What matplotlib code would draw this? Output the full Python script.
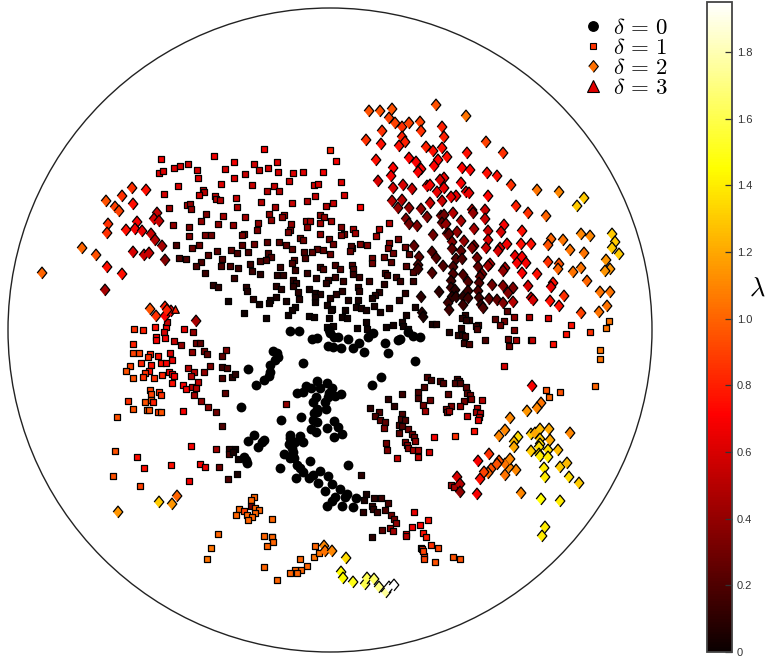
import matplotlib
matplotlib.use("Agg")
import matplotlib.pyplot as plt
from matplotlib.cm import ScalarMappable
from matplotlib.colors import Normalize
from matplotlib.lines import Line2D
from matplotlib.patches import Circle

# All positions (x, y) with a lambda value from colour
circles = [(290,331),(299,331),(312,339),(317,338),(329,330),(330,333),(334,337),(338,337),(348,339),(328,346),(333,347),(341,348),(353,348),(359,343),(364,352),(368,337),(373,333),(385,343),(388,353),(398,340),(400,339),(408,332),(413,336),(420,337),(415,361),(381,377),(372,385),(303,363),(248,369),(273,351),(277,353),(278,357),(270,365),(270,372),(269,376),(264,380),(256,385),(275,360),(241,407),(281,420),(301,417),
(317,381),(327,383),(306,386),(311,388),(320,388),(332,388),(297,393),(303,392),(341,394),(335,396),(329,393),(316,397),(313,402),(325,402),(328,397),(326,409),(317,409),(314,413),(317,422),(313,420),(334,421),(338,427),(327,428),(342,434),(334,437),(311,429),(316,432),(317,412),
(254,435),(264,440),(248,441),(262,442),(258,447),(244,457),(246,460),(247,463),(290,435),(300,436),(290,438),(303,442),(289,444),(295,442),(292,448),(284,454),(293,452),(290,458),(294,458),(297,465),(310,461),(300,468),(303,472),(280,468),(296,478),(320,471),(313,475),(309,478),(328,476),(348,465),(318,483),(332,484),(340,489),(325,491),(347,494),(345,497),(335,497),(332,501),(327,506),(356,498),(342,506),(353,507)]

squares_top_left = [(161,159,.68),(214,156,.68),(234,162,.68),(159,173,.62),(163,171,.62),(174,168,.62),(180,166,.6),(188,164,.58),(197,170,.6),(225,169,.6),(198,178,.62),(234,178,.62),(178,186,.62),(221,184,.62),(164,194,.6),(203,190,.6),(204,192,.5),(199,195,.6),(215,196,.55),(216,199,.5),(220,200,.5),(236,198,.55),(169,208,.45),(187,205,.5),(190,204,.4),(191,209,.4),(237,207,.5),(206,214,.35),(223,216,.45),(173,225,.4),(189,227,.35),(201,221,.4),(218,224,.4),(233,225,.4),(189,236,.35),(205,235,.35),(211,235,.3),(176,245,.2),(192,248,.3),(199,245,.3),(217,251,.25),(231,250,.25),(237,253,.2),(208,255,.25),(179,258,.2),(186,259,.2),(201,262,.2),(196,266,.2),(222,259,.2),(221,266,.2),(230,266,.2),(238,268,.15),(205,273,.15),(234,278,.15),(213,285,.1),(218,287,.1),(228,301,.02)]

squares_top_mid = [(264,149,.68),(330,150,.8),(336,161,.7),(254,164,.58),(259,170,.55),(277,162,.62),(268,168,.6),(278,172,.6),(293,173,.62),(303,172,.62),(323,172,.68),(245,174,.55),(289,181,.58),(252,185,.55),(314,185,.6),(318,184,.6),(341,182,.62),(274,186,.55),(267,191,.5),(279,191,.5),(344,195,.6),(315,196,.55),(307,201,.5),(261,202,.5),(292,203,.55),(333,203,.55),(326,206,.5),(360,207,.72),(275,207,.45),(269,214,.4),(245,217,.45),(284,215,.45),(282,217,.4),(320,215,.4),(324,217,.4),(271,220,.4),(306,221,.45),(310,221,.45),(331,221,.45),(320,223,.45),(258,223,.4),(291,224,.4),(307,227,.4),(341,227,.35),(353,229,.45),(389,223,.5),(379,229,.5),(257,230,.35),(290,230,.35),(288,232,.35),(355,233,.45),(376,236,.45),(344,234,.3),(341,235,.35),(320,234,.4),(244,234,.3),(242,235,.35),(300,238,.3),(303,240,.3),(329,239,.3),(267,242,.25),(279,242,.25),(398,239,.35),(333,244,.3),(389,243,.35),(286,245,.25),(254,244,.3),(242,245,.25),(360,244,.35),(367,245,.35),(405,247,.3),(388,248,.35),(292,249,.25),(317,249,.25),(323,250,.25),(352,248,.35),(351,246,.2),(350,251,.3),(248,252,.2),(312,252,.25),(304,252,.2),(268,253,.2),(330,254,.3),(393,253,.3),(409,254,.25),(271,257,.2),(305,258,.2),(372,258,.3),(384,257,.3),(266,260,.2),(260,261,.2),(294,260,.2),(292,263,.2),(372,263,.3),(391,262,.25)]

squares_center = [(250,264,.15),(335,265,.2),(352,265,.2),(280,267,.15),(320,267,.15),(406,266,.25),(323,269,.2),(340,269,.2),(353,269,.2),(295,270,.15),(252,271,.15),(413,272,.2),(385,273,.2),(307,273,.15),(260,274,.1),(277,275,.1),(283,275,.1),(353,274,.15),(387,275,.15),(396,277,.15),(359,277,.15),(335,277,.15),(316,278,.1),(293,280,.1),(296,283,.1),(328,280,.15),(326,283,.1),(343,281,.15),(369,281,.15),(400,281,.15),(413,281,.15),(293,286,.1),(276,286,.1),(246,287,.1),(384,284,.1),(358,287,.1),(309,289,.05),(281,289,.08),(247,291,.08),(342,291,.1),(298,292,.1),(359,291,.1),(315,293,.05),(320,294,.08),(336,294,.1),(379,292,.1),(405,293,.1),(375,295,.1),(276,297,.05),(372,298,.05),(299,299,.08),(253,299,.08),(330,298,.08),(315,297,.05),(315,302,.03),(270,300,.05),(348,300,.08),(358,300,.05),(399,300,.1),(269,303,.03),(259,304,.03),(286,301,.05),(327,305,.05),(332,309,.02),(415,307,.05),(356,307,.05),(361,308,.05),(366,310,.05),(374,306,.05),(389,308,.08),(380,312,.05),(295,307,.03),(292,310,.03),(345,310,.03),(331,310,.03),(244,313,.02),(288,315,.02),(309,316,.02),(314,317,.02),(329,318,.02),(266,318,.02),(342,317,.02),(347,318,.02),(366,322,.03),(406,315,.05),(402,322,.05),(403,326,.03),(393,325,.03),(386,327,.03),(333,326,.02),(327,327,.02),(357,328,.02),(367,329,.02),(408,329,.05)]

squares_right = [(507,311,.25),(514,317,.4),(529,317,.5),(548,318,.65),(495,319,.25),(504,321,.3),(500,325,.3),(465,315,.1),(462,318,.1),(469,320,.1),(466,320,.1),(432,324,.05),(436,324,.08),(478,325,.2),(476,326,.15),(477,329,.2),(461,328,.1),(449,332,.08),(458,335,.1),(462,335,.1),(465,336,.15),(514,330,.35),(571,325,.75),(566,334,.75),(590,332,.85),(485,340,.2),(508,339,.3),(516,340,.45),(531,340,.45),(532,340,.55),(553,344,.75),(509,346,.3),(464,343,.15),(469,344,.2),(609,321,1.05),(606,328,1.05),(600,350,1.05),(600,359,1.05),(504,366,.6),(546,390,.95),(549,397,1.0),(560,392,.95),(595,386,1.0)]

squares_arc = [(427,377,.2),(431,380,.15),(440,381,.2),(443,383,.2),(457,379,.2),(459,381,.2),(455,383,.2),(460,383,.2),(466,387,.25),(424,387,.2),(467,393,.25),(418,392,.2),(448,394,.25),(402,394,.15),(470,395,.3),(418,398,.2),(471,399,.35),(482,400,.5),(388,399,.1),(430,400,.3),(464,401,.3),(394,406,.1),(370,408,.1),(423,405,.3),(451,406,.35),(460,406,.4),(425,411,.45),(446,409,.35),(447,412,.4),(449,411,.45),(477,408,.5),(476,412,.45),(480,413,.5),(467,416,.55),(479,417,.5),(478,420,.65),(379,412,.2),(375,416,.2),(380,420,.25),(385,422,.25),(384,428,.35),(402,414,.2),(401,419,.2),(405,420,.2),(399,425,.2),(402,426,.2),(399,433,.25),(408,429,.3),(412,434,.3),(414,437,.3),(415,441,.4),(405,442,.35),(407,445,.4),(408,448,.4),(413,450,.45),(418,450,.45),(418,457,.55),(386,443,.3),(387,450,.35),(397,458,.55),(429,452,.6),(434,437,.7),(455,436,.85),(474,431,.75),(451,485,.45),(454,487,.45)]

squares_bottom = [(366,494,.05),(364,500,.05),(374,498,.1),(381,498,.15),(388,503,.2),(372,506,.1),(373,509,.1),(363,512,.1),(377,512,.15),(385,510,.2),(391,515,.3),(394,519,.3),(396,523,.4),(382,530,.25),(390,528,.4),(393,531,.45),(414,512,.65),(428,520,.75),(412,527,.7),(420,525,.72),(406,534,.65),(406,536,.5),(423,533,.75),(426,537,.78),(372,537,.1),(431,545,.85),(421,548,.9),(438,548,.9),(435,562,.95),(422,549,.85),(424,556,.9),(424,559,.9),(423,551,.9),(453,557,.95),(460,559,.95),(361,475,.1)]

squares_left = [(134,329,.85),(143,330,.8),(155,327,.75),(166,327,.7),(164,332,.6),(167,322,.55),(184,329,.65),(193,332,.4),(156,337,.72),(165,338,.7),(156,340,.7),(174,341,.55),(181,345,.4),(196,343,.3),(200,343,.25),(133,344,.8),(133,353,.9),(139,353,.9),(150,354,.8),(148,357,.85),(158,356,.75),(170,353,.6),(192,352,.4),(204,351,.3),(207,354,.25),(226,350,.35),(222,356,.25),(172,360,.65),(141,363,.8),(161,363,.75),(166,363,.7),(151,365,.75),(130,366,.9),(126,371,.95),(188,368,.5),(210,366,.35),(222,367,.15),(227,368,.2),(149,371,.75),(145,373,.85),(169,372,.7),(172,374,.65),(174,376,.7),(194,372,.5),(204,372,.4),(162,375,.8),(154,378,.85),(143,377,.85),(133,378,.95),(191,376,.5),(222,378,.2),(232,377,.1),(235,374,.1),(198,382,.55),(172,383,.75),(183,385,.7),(186,389,.7),(192,387,.5),(196,388,.5),(194,395,.45),(225,393,.25),(201,401,.4),(150,390,.9),(159,392,.85),(161,395,.85),(151,394,.9),(128,401,.85),(145,402,.95),(151,400,.95),(153,402,.8),(208,407,.4),(133,409,.95),(147,410,.95),(149,410,.95),(158,412,.9),(161,412,.95),(183,411,.7),(216,412,.3),(117,417,.95),(222,426,.2),(286,404,.4),(191,446,.7),(216,449,.45),(229,449,.1),(229,454,.2),(235,449,.02),(233,452,.05),(238,459,.02),(115,451,.95),(137,457,.75),(200,464,.7),(205,467,.65),(219,467,.3),(144,468,.75),(171,465,.75),(113,476,.95),(189,481,.7),(228,479,.2),(237,474,.05),(140,486,.9)]

squares_orange = [(254,497,1.0),(251,500,1.0),(251,506,.3),(239,509,1.0),(244,511,.9),(236,515,1.0),(255,508,1.0),(259,510,1.0),(255,513,1.0),(247,515,1.0),(252,517,1.0),(248,520,1.0),(272,519,1.0),(218,534,1.0),(264,536,1.0),(272,537,.2),(272,537,1.0),(273,542,1.0),(267,546,1.0),(211,548,1.05),(207,559,1.05),(264,567,1.0),(300,559,1.0),(315,546,1.0),(314,557,1.05),(319,553,1.05),(307,566,1.0),(301,570,1.0),(295,570,1.0),(297,573,1.0),(290,573,1.0),(277,580,1.0)]

diamonds_lower = [(159,502,1.3),(172,504,1.15),(177,496,1.0),(118,512,1.15),(324,546,1.1),(325,551,1.05),(332,551,1.1),(346,558,1.35),(341,572,1.45),(343,578,1.45),(353,582,1.5),(365,584,1.6),(367,578,1.6),(374,579,1.65),(379,587,1.7),(386,592,1.75),(389,587,1.95),(394,585,1.95)]

diamonds_right = [(532,386,.7),(541,403,1.05),(537,408,1.1),(527,411,1.15),(510,418,1.1),(505,430,1.1),(499,436,1.1),(518,437,1.35),(514,442,1.25),(514,447,1.2),(531,434,1.3),(535,433,1.2),(540,429,1.25),(549,429,1.2),(570,433,1.1),(540,439,1.3),(550,440,1.2),(540,444,1.35),(539,447,1.35),(531,451,1.3),(539,454,1.35),(540,456,1.4),(548,450,1.35),(558,450,1.25),(548,457,1.4),(544,468,1.4),(560,467,1.3),(567,463,1.25),(545,477,1.4),(569,477,1.35),(579,483,1.3),(541,499,1.45),(560,501,1.4),(545,527,1.4),(542,536,1.4),(521,493,1.1),(505,475,1.05),(516,470,1.1),(509,467,1.1),(505,464,1.05),(510,459,1.1),(499,461,.95),(497,464,.95),(491,469,.95),(488,473,1.0),(484,472,.9),(489,454,.85),(478,461,.7),(480,479,.75),(477,494,.7),(457,477,.6),(460,484,.5),(460,492,.4)]

diamonds_upper_left = [(132,188,.85),(146,190,.75),(122,196,.85),(106,201,.95),(133,204,.75),(115,207,.9),(119,211,.9),(157,213,.55),(154,219,.6),(159,221,.55),(137,222,.7),(108,224,.85),(135,229,.7),(126,230,.75),(142,231,.65),(107,233,.85),(151,234,.55),(155,240,.5),(162,246,.45),(82,248,1.0),(96,255,.95),(133,252,.6),(144,255,.55),(149,253,.55),(165,260,.35),(107,267,.75),(122,274,.75),(42,273,1.0),(105,290,.45),(150,309,.95),(156,316,.85),(165,307,.8),(165,316,.7),(171,311,.7),(167,310,.8),(196,321,.45)]

diamonds_top = [(369,111,.95),(380,111,.95),(392,109,.95),(389,118,.9),(395,123,.9),(402,127,.85),(409,123,.9),(420,122,.9),(421,131,.85),(436,105,.95),(382,131,.85),(366,140,.85),(381,144,.75),(402,137,.8),(405,142,.8),(399,146,.75),(426,147,.8),(433,151,.75),(409,158,.72),(416,162,.7),(438,160,.72),(434,166,.72),(376,160,.75),(393,168,.72),(421,169,.7),(418,172,.7),(391,176,.7),(378,181,.6),(393,188,.6),(403,185,.6),(412,189,.55),(427,186,.65),(430,185,.7),(437,192,.65),(392,201,.5),(402,200,.5),(430,203,.55),(398,208,.4),(409,208,.4),(421,209,.4),(427,217,.35),(406,219,.35),(409,224,.3),(417,226,.35),(433,235,.3),(414,246,.25),(432,252,.2),(419,257,.25),(436,258,.2),(418,265,.2),(432,273,.2),(418,269,.15),(421,297,.1),(422,313,.08),(423,317,.05)]

diamonds_far_right = [(466,116,1.05),(442,127,.8),(444,137,.8),(486,142,.9),(442,148,.75),(467,153,.75),(503,153,.85),(447,157,.75),(462,168,.72),(470,170,.72),(487,173,.75),(497,176,.75),(444,178,.65),(440,180,.6),(461,183,.7),(511,185,.85),(537,190,1.05),(559,192,1.1),(444,188,.65),(466,192,.6),(469,193,.65),(456,196,.65),(451,197,.65),(442,201,.55),(488,196,.72),(516,206,.8),(584,198,1.3),(577,206,1.3),(472,210,.5),(473,213,.4),(485,210,.55),(453,213,.5),(528,213,.85),(546,216,1.0),(441,216,.3),(444,215,.3),(485,219,.55),(461,221,.45),(442,223,.25),(446,224,.4),(504,225,.7),(474,229,.45),(488,231,.55),(501,232,.6),(522,231,.75),(457,232,.4),(447,234,.3),(449,234,.25),(612,234,1.3),(581,234,1.1),(590,236,1.1),(551,239,1.0),(563,240,1.05),(615,242,1.3),(488,240,.6),(464,241,.4),(452,242,.35),(507,244,.7),(521,244,.75),(531,244,.75),(548,245,.95),(612,248,1.3),(570,250,1.05),(584,253,1.05),(619,254,1.3),(474,246,.3),(472,248,.35),(486,248,.55),(500,248,.6),(498,251,.6),(452,249,.25),(461,251,.25),(515,256,.65),(522,257,.7),(456,259,.2),(462,259,.2),(477,258,.3),(606,260,1.15),(526,263,.7),(548,262,.85),(517,263,.7),(559,264,.95),(443,266,.2),(453,267,.2),(490,264,.5),(488,266,.45),(478,267,.25),(558,269,1.0),(505,268,.45),(503,271,.4),(581,268,1.05),(610,269,1.15),(605,271,1.15),(573,272,1.05),(453,274,.2),(463,275,.2),(482,274,.3),(480,277,.25),(522,273,.7),(537,274,.75),(587,281,1.0),(451,281,.15),(468,282,.2),(479,283,.2),(492,285,.3),(553,283,.75),(551,287,.65),(503,286,.35),(528,286,.6),(513,288,.35),(610,292,1.05),(600,292,1.05),(439,292,.1),(451,288,.15),(455,290,.1),(468,291,.15),(478,291,.2),(508,293,.35),(564,296,.85),(452,297,.1),(456,297,.1),(463,297,.1),(468,298,.15),(479,298,.15),(531,298,.55),(533,300,.6),(550,301,.75),(489,299,.25),(497,300,.25),(503,303,.35),(513,302,.5),(448,303,.15),(463,305,.15),(481,305,.15),(483,308,.2),(559,306,.75),(607,306,1.05),(449,310,.15),(581,313,.9),(599,312,1.05)]

triangles = [(175,309,.8)]

legend_labels = [r"$\delta\,=\,0$", r"$\delta\,=\,1$", r"$\delta\,=\,2$", r"$\delta\,=\,3$"]
bar_ticks = [0, .2, .4, .6, .8, 1.0, 1.2, 1.4, 1.6, 1.8]
bar_labels = ["0", "0.2", "0.4", "0.6", "0.8", "1.0", "1.2", "1.4", "1.6", "1.8"]
lam_max = 1.95

plt.rcParams["mathtext.fontset"] = "cm"
plt.rcParams["font.family"] = ["Liberation Sans", "DejaVu Sans"]

fig = plt.figure(figsize=(7.66, 6.57), dpi=100)
ax = fig.add_axes([0, 0, 1, 1])
ax.set_xlim(0, 766)
ax.set_ylim(657, 0)
ax.axis("off")

ax.add_patch(Circle((330, 330), 322, fill=False, ec="#222222", lw=1.0, clip_on=False))

norm = Normalize(0, lam_max)
cmap = "hot"
diamond = [(-0.82, 0), (0, 1), (0.82, 0), (0, -1)]

def draw(rows, marker, size, lw=0.9):
    xs, ys, ls = zip(*rows)
    ax.scatter(xs, ys, c=ls, cmap=cmap, norm=norm, marker=marker, s=size,
               edgecolors="black", linewidths=lw)

for group in (squares_top_left, squares_top_mid, squares_center, squares_right,
              squares_arc, squares_bottom, squares_left, squares_orange):
    draw(group, "s", 25)
for group in (diamonds_lower, diamonds_right, diamonds_upper_left, diamonds_top,
              diamonds_far_right):
    draw(group, diamond, 72)
draw(triangles, "^", 30)
cx, cy = zip(*circles)
ax.scatter(cx, cy, c="black", marker="o", s=50, linewidths=0)

handles = [
    Line2D([], [], ls="", marker="o", mfc="black", mec="black", ms=6.8),
    Line2D([], [], ls="", marker="s", mfc="#ff3300", mec="black", ms=4.8, mew=0.8),
    Line2D([], [], ls="", marker=diamond, mfc="#ff7000", mec="black", ms=8.5, mew=0.8),
    Line2D([], [], ls="", marker="^", mfc="#e00000", mec="black", ms=8, mew=0.8),
]
ax.legend(handles, legend_labels, loc="upper left", bbox_to_anchor=(583 / 766, 1 - 16 / 657),
          frameon=False, fontsize=16.5, labelspacing=-0.13, handletextpad=0.4,
          handlelength=0.9, borderpad=0, borderaxespad=0)

cax = fig.add_axes([707 / 766, 1 - 652 / 657, 25 / 766, 650 / 657])
cb = fig.colorbar(ScalarMappable(norm=norm, cmap=cmap), cax=cax)
cb.set_ticks(bar_ticks)
cb.set_ticklabels(bar_labels)
cax.tick_params(axis="y", direction="in", length=5, width=0.9, color="#333333",
                labelsize=8, labelcolor="#333333", pad=3.5)
cb.outline.set_edgecolor("#444444")
cb.outline.set_linewidth(1.3)
fig.text(757 / 766, 1 - 289 / 657, r"$\lambda$", fontsize=19, ha="center", va="center")

fig.savefig("out.png", dpi=100)
